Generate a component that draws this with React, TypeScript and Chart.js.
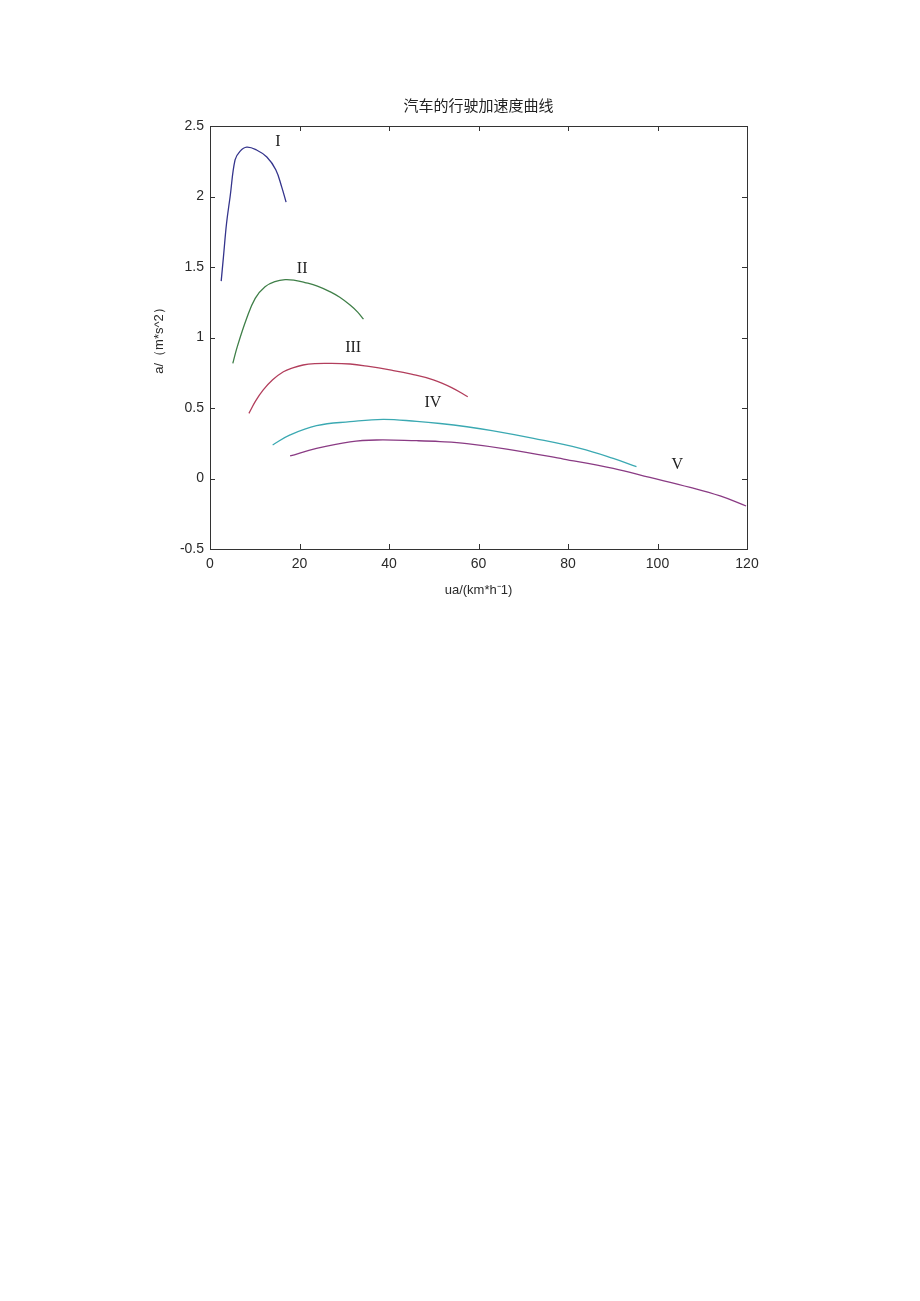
import React, { useEffect, useRef } from "react";
import { Chart, registerables } from "chart.js";

Chart.register(...registerables);

const titleText = "汽车的行驶加速度曲线";
const xTitle = "ua/(km*h⁻1)";
const yTitle = "a/（m*s^2）";

const gearNames = ["I", "II", "III", "IV", "V"];

const u1 = [2.5, 3.0, 3.7, 4.5, 5.6, 6.7, 8.2, 10.4, 12.7, 14.7, 16.0, 17.0];
const a1 = [1.4, 1.57, 1.81, 2.0, 2.26, 2.32, 2.35, 2.33, 2.28, 2.19, 2.07, 1.96];

const u2 = [5.1, 6.1, 8.2, 10.1, 12.3, 14.5, 16.8, 19.0, 21.2, 24.0, 26.8, 29.0, 31.3, 33.0, 34.3];
const a2 = [0.817, 0.935, 1.136, 1.278, 1.36, 1.396, 1.41, 1.405, 1.39, 1.365, 1.325, 1.285, 1.23, 1.18, 1.13];

const u3 = [8.7, 10.2, 11.9, 14.0, 16.4, 18.5, 20.8, 23.5, 26.1, 31.3, 35.5, 40.2, 45.0, 49.9, 54.0, 57.6];
const a3 = [0.462, 0.55, 0.628, 0.7, 0.757, 0.785, 0.805, 0.815, 0.817, 0.812, 0.795, 0.77, 0.74, 0.7, 0.645, 0.58];

const u4 = [14.0, 17.9, 23.8, 31.3, 38.7, 46.2, 51.4, 57.4, 63.0, 72.3, 82.7, 90.1, 95.3];
const a4 = [0.238, 0.309, 0.375, 0.403, 0.42, 0.405, 0.39, 0.367, 0.34, 0.285, 0.214, 0.143, 0.084];

const u5 = [17.9, 23.8, 31.3, 37.2, 46.2, 51.4, 57.4, 66.3, 79.0, 90.1, 98.3, 107.3, 114.0, 119.8];
const a5 = [0.16, 0.214, 0.26, 0.273, 0.268, 0.262, 0.248, 0.209, 0.138, 0.072, 0.008, -0.063, -0.124, -0.195];

const labelU = [15.2, 20.6, 32.0, 49.8, 104.4];
const labelA = [2.39, 1.49, 0.93, 0.54, 0.1];

const colors = ["#34348c", "#3f7f48", "#b23e5c", "#3ba9b2", "#8a3b84"];

const xTicks = [0, 20, 40, 60, 80, 100, 120];
const yTicks = [-0.5, 0, 0.5, 1, 1.5, 2, 2.5];

const seriesU = [u1, u2, u3, u4, u5];
const seriesA = [a1, a2, a3, a4, a5];

const framePlugin = {
  id: "frame",
  afterDraw(chart: any) {
    const { ctx, chartArea } = chart;
    const { left, right, top, bottom } = chartArea;
    const xs = chart.scales.x;
    const ys = chart.scales.y;
    ctx.save();
    ctx.strokeStyle = "#333";
    ctx.lineWidth = 1;
    ctx.strokeRect(left + 0.5, top + 0.5, right - left, bottom - top);
    ctx.beginPath();
    xTicks.forEach((t) => {
      const p = Math.round(xs.getPixelForValue(t)) + 0.5;
      ctx.moveTo(p, bottom);
      ctx.lineTo(p, bottom - 5);
      ctx.moveTo(p, top);
      ctx.lineTo(p, top + 5);
    });
    yTicks.forEach((t) => {
      const p = Math.round(ys.getPixelForValue(t)) + 0.5;
      ctx.moveTo(left, p);
      ctx.lineTo(left + 5, p);
      ctx.moveTo(right, p);
      ctx.lineTo(right - 5, p);
    });
    ctx.stroke();
    ctx.fillStyle = "#222";
    ctx.font = "15px 'Noto Sans CJK SC'";
    ctx.textAlign = "center";
    ctx.textBaseline = "middle";
    ctx.fillText(titleText, (left + right) / 2, top - 21);
    ctx.font = "16px 'Liberation Serif'";
    ctx.fillStyle = "#222";
    gearNames.forEach((n, i) => {
      ctx.fillText(n, xs.getPixelForValue(labelU[i]), ys.getPixelForValue(labelA[i]));
    });
    ctx.restore();
  },
};

export default function App() {
  const ref = useRef<HTMLCanvasElement | null>(null);
  useEffect(() => {
    if (!ref.current) return;
    const datasets = seriesU.map((us, i) => ({
      label: gearNames[i],
      data: us.map((u, j) => ({ x: u, y: seriesA[i][j] })),
      borderColor: colors[i],
      borderWidth: 1.3,
      pointRadius: 0,
      tension: 0.4,
      fill: false,
    }));
    const chart = new Chart(ref.current, {
      type: "line",
      data: { datasets },
      options: {
        animation: false,
        responsive: false,
        layout: { padding: { left: 150, top: 126, right: 173, bottom: 31 } },
        plugins: { legend: { display: false }, tooltip: { enabled: false }, title: { display: false } },
        scales: {
          x: {
            type: "linear",
            min: 0,
            max: 120,
            afterFit: (s: any) => {
              s.height = 60;
            },
            afterBuildTicks: (s: any) => {
              s.ticks = xTicks.map((v) => ({ value: v }));
            },
            grid: { display: false, drawTicks: false },
            border: { display: false },
            ticks: { padding: 7, color: "#2a2a2a", font: { family: "'Liberation Sans'", size: 14 }, maxRotation: 0 },
            title: {
              display: true,
              text: xTitle,
              color: "#2a2a2a",
              font: { family: "'Liberation Sans'", size: 13 },
              padding: { top: 0, bottom: 11 },
            },
          },
          y: {
            type: "linear",
            min: -0.5,
            max: 2.5,
            afterFit: (s: any) => {
              s.width = 60;
            },
            afterBuildTicks: (s: any) => {
              s.ticks = yTicks.map((v) => ({ value: v }));
            },
            grid: { display: false, drawTicks: false },
            border: { display: false },
            ticks: {
              padding: 6,
              color: "#2a2a2a",
              font: { family: "'Liberation Sans'", size: 14 },
              callback: (v: any) => String(v),
            },
            title: {
              display: true,
              text: yTitle,
              color: "#2a2a2a",
              font: { family: "'Liberation Sans'", size: 13 },
              padding: { top: 2, bottom: 0 },
            },
          },
        },
      },
      plugins: [framePlugin],
    } as any);
    return () => chart.destroy();
  }, []);
  return (
    <div style={{ position: "absolute", left: 0, top: 0, width: 920, height: 640 }}>
      <canvas ref={ref} width={920} height={640} style={{ display: "block" }} />
    </div>
  );
}
